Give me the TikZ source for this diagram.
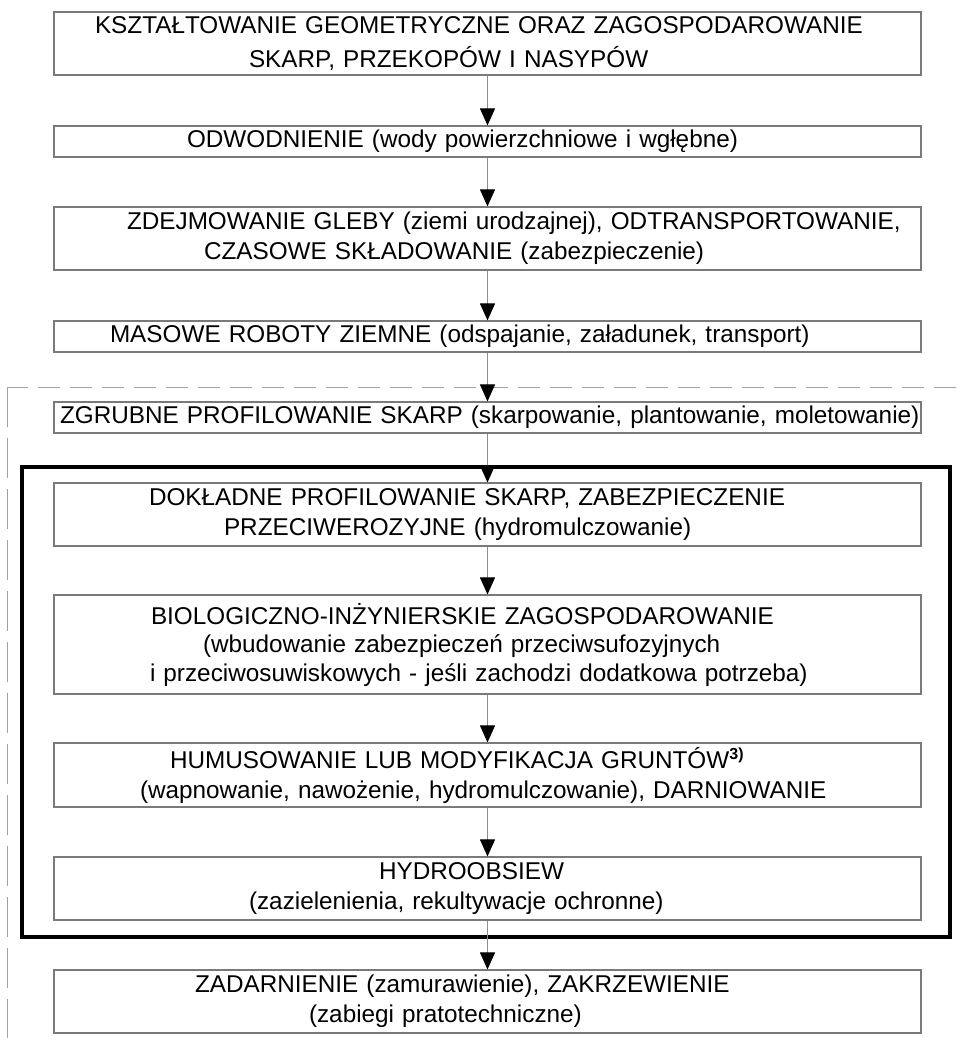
\documentclass[tikz,border=0pt]{standalone}
\usepackage{fontspec}
\setmainfont{Liberation Sans}
\usetikzlibrary{arrows.meta}
\definecolor{Edge}{HTML}{7A7A7A}
\definecolor{Shaft}{HTML}{8E8E8E}
\definecolor{Dash}{HTML}{A0A0A0}
\newcommand\ind[1]{\hspace*{#1pt}}
\newcommand\fnmark[1]{\raisebox{9pt}{\fontsize{16}{16}\selectfont\bfseries #1}}

\begin{document}
\begin{tikzpicture}[x=1pt,y=-1pt,
    stage/.style={draw=Edge,line width=1.1pt,text width=867pt,inner xsep=0pt,inner ysep=0pt,
      align=left,font=\fontsize{24.3}{30}\selectfont},
    flow/.style={draw=Shaft,line width=0.9pt,-{Triangle[width=15pt,length=17pt,color=black]}}]
  \useasboundingbox (0,0) rectangle (956,1038);
  % dashed border and thick group frame
  \draw[Dash,line width=1pt,dash pattern=on 22pt off 10pt] (956,387) -- (7,387);
  \draw[Dash,line width=1pt,dash pattern=on 40pt off 11pt] (7,387) -- (7,1038);
  \draw[line width=4pt] (22,467) rectangle (950,937);
  \foreach \nm/\yc/\h/\txt in {
      geom/43.5/63/{\ind{41}KSZTAŁTOWANIE GEOMETRYCZNE ORAZ ZAGOSPODAROWANIE\\[4pt]\ind{195}SKARP, PRZEKOPÓW I NASYPÓW},
      odwod/141.5/31/{\ind{133}ODWODNIENIE (wody powierzchniowe i wgłębne)},
      gleba/238.5/63/{\ind{73}ZDEJMOWANIE GLEBY (ziemi urodzajnej), ODTRANSPORTOWANIE,\\\ind{150}CZASOWE SKŁADOWANIE (zabezpieczenie)},
      masowe/336.5/31/{\ind{56}MASOWE ROBOTY ZIEMNE (odspajanie, załadunek, transport)},
      zgrubne/417.5/31/{\ind{6}ZGRUBNE PROFILOWANIE SKARP (skarpowanie, plantowanie, moletowanie)},
      dokladne/514.5/63/{\ind{95}DOKŁADNE PROFILOWANIE SKARP, ZABEZPIECZENIE\\\ind{170}PRZECIWEROZYJNE (hydromulczowanie)},
      bio/644.5/99/{\ind{97}BIOLOGICZNO-INŻYNIERSKIE ZAGOSPODAROWANIE\\[-1.5pt]\ind{149}(wbudowanie zabezpieczeń przeciwsufozyjnych\\[-1.5pt]\ind{96}i przeciwosuwiskowych - jeśli zachodzi dodatkowa potrzeba)},
      humus/775/64/{\ind{116}HUMUSOWANIE LUB MODYFIKACJA GRUNTÓW\fnmark{3)}\\\ind{86}(wapnowanie, nawożenie, hydromulczowanie), DARNIOWANIE},
      hydro/888.5/63/{\ind{325}HYDROOBSIEW\\\ind{195}(zazielenienia, rekultywacje ochronne)},
      zadarn/1001.5/63/{\ind{141}ZADARNIENIE (zamurawienie), ZAKRZEWIENIE\\\ind{255}(zabiegi pratotechniczne)}}
    \node[stage,minimum height=\h] (\nm) at (487.5,\yc) {\txt};
  \foreach \a/\b in {geom/odwod,odwod/gleba,gleba/masowe,masowe/zgrubne,zgrubne/dokladne,
      dokladne/bio,bio/humus,humus/hydro,hydro/zadarn}
    \draw[flow] (\a.south) -- (\b.north);
\end{tikzpicture}
\end{document}
